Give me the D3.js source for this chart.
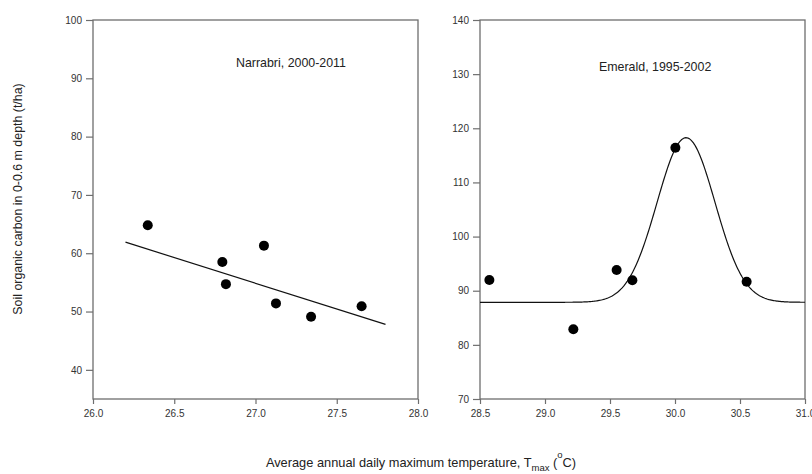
<!DOCTYPE html>
<html>
<head>
<meta charset="utf-8">
<script src="https://cdn.jsdelivr.net/npm/d3@7"></script>
<style>
  html, body { margin: 0; padding: 0; background: #fff; }
  svg { display: block; font-family: "Liberation Sans", Arial, sans-serif; }
</style>
</head>
<body>
<svg id="chart" width="812" height="474"></svg>
<script>
// ---- Data ----
const narrabriTemp   = [26.337, 26.796, 26.818, 27.052, 27.126, 27.342, 27.653];
const narrabriCarbon = [64.8, 58.5, 54.7, 61.3, 51.4, 49.1, 50.9];
const narrabriFitTemp   = [26.2, 27.8];
const narrabriFitCarbon = [61.9, 47.8];

const emeraldTemp   = [28.572, 29.218, 29.551, 29.672, 30.003, 30.551];
const emeraldCarbon = [91.98, 82.87, 93.83, 91.92, 116.4, 91.67];
// Gaussian peak fit: y = base + amp * exp(-0.5 * ((x - center)/width)^2)
const emeraldFitBase = 87.86;
const emeraldFitAmp = 30.4;
const emeraldFitCenter = 30.085;
const emeraldFitWidth = 0.223;

const leftXTicks  = [26.0, 26.5, 27.0, 27.5, 28.0];
const leftYTicks  = [40, 50, 60, 70, 80, 90, 100];
const rightXTicks = [28.5, 29.0, 29.5, 30.0, 30.5, 31.0];
const rightYTicks = [70, 80, 90, 100, 110, 120, 130, 140];

const leftTitle  = "Narrabri, 2000-2011";
const rightTitle = "Emerald, 1995-2002";
const yLabel = "Soil organic carbon in 0-0.6 m depth (t/ha)";

// ---- Drawing ----
const svg = d3.select("#chart");
const axisColor = "#6e6e6e";
const inkColor = "#111";

function panel(cfg) {
  const x = d3.scaleLinear().domain(cfg.xDomain).range([cfg.x0, cfg.x1]);
  const y = d3.scaleLinear().domain(cfg.yDomain).range([cfg.y1, cfg.y0]);
  const g = svg.append("g");

  g.append("rect")
    .attr("x", cfg.x0).attr("y", cfg.y0)
    .attr("width", cfg.x1 - cfg.x0).attr("height", cfg.y1 - cfg.y0)
    .attr("fill", "none").attr("stroke", axisColor).attr("stroke-width", 1.3);

  const xAxis = d3.axisBottom(x).tickValues(cfg.xTicks).tickFormat(d3.format(".1f"))
    .tickSizeInner(5).tickSizeOuter(0).tickPadding(6);
  const gx = g.append("g").attr("transform", `translate(0,${cfg.y1})`).call(xAxis);
  const yAxis = d3.axisLeft(y).tickValues(cfg.yTicks).tickFormat(d3.format("d"))
    .tickSizeInner(7).tickSizeOuter(0).tickPadding(4);
  const gy = g.append("g").attr("transform", `translate(${cfg.x0},0)`).call(yAxis);
  [gx, gy].forEach(a => {
    a.select(".domain").remove();
    a.selectAll(".tick line").attr("stroke", axisColor).attr("stroke-width", 1.2);
    a.selectAll(".tick text").attr("fill", "#333")
      .style("font-size", "10px").style("font-family", "'Liberation Sans', Arial, sans-serif");
  });

  g.append("text")
    .attr("x", cfg.titleX).attr("y", cfg.titleY)
    .attr("fill", "#222").style("font-size", "12.4px")
    .text(cfg.title);

  return { g, x, y };
}

// Left panel
const L = panel({
  x0: 93, x1: 418, y0: 20, y1: 399,
  xDomain: [26, 28], yDomain: [35, 100],
  xTicks: leftXTicks, yTicks: leftYTicks,
  title: leftTitle, titleX: 236, titleY: 67
});
L.g.append("path")
  .datum(d3.zip(narrabriFitTemp, narrabriFitCarbon))
  .attr("d", d3.line().x(d => L.x(d[0])).y(d => L.y(d[1])))
  .attr("fill", "none").attr("stroke", inkColor).attr("stroke-width", 1.2);
L.g.selectAll("circle.pt")
  .data(d3.zip(narrabriTemp, narrabriCarbon))
  .join("circle").attr("class", "pt")
  .attr("cx", d => L.x(d[0])).attr("cy", d => L.y(d[1]))
  .attr("r", 5).attr("fill", "#000");

// Right panel
const R = panel({
  x0: 480, x1: 805, y0: 20, y1: 399,
  xDomain: [28.5, 31], yDomain: [70, 140],
  xTicks: rightXTicks, yTicks: rightYTicks,
  title: rightTitle, titleX: 599, titleY: 71
});
const fitXs = d3.range(0, 301).map(i => 28.5 + i * (2.5 / 300));
const fitPts = fitXs.map(t => [t,
  emeraldFitBase + emeraldFitAmp * Math.exp(-0.5 * Math.pow((t - emeraldFitCenter) / emeraldFitWidth, 2))]);
R.g.append("path")
  .datum(fitPts)
  .attr("d", d3.line().x(d => R.x(d[0])).y(d => R.y(d[1])))
  .attr("fill", "none").attr("stroke", inkColor).attr("stroke-width", 1.2);
R.g.selectAll("circle.pt")
  .data(d3.zip(emeraldTemp, emeraldCarbon))
  .join("circle").attr("class", "pt")
  .attr("cx", d => R.x(d[0])).attr("cy", d => R.y(d[1]))
  .attr("r", 5).attr("fill", "#000");

// Y axis label
svg.append("text")
  .attr("transform", "translate(22,199) rotate(-90)")
  .attr("text-anchor", "middle")
  .attr("fill", "#222").style("font-size", "12.4px")
  .text(yLabel);

// X axis label with subscript / superscript
const xl = svg.append("text")
  .attr("x", 421).attr("y", 467)
  .attr("text-anchor", "middle")
  .attr("fill", "#222").style("font-size", "12.8px");
xl.append("tspan").text("Average annual daily maximum temperature, T");
xl.append("tspan").attr("dy", 4).style("font-size", "9.5px").text("max");
xl.append("tspan").attr("dy", -4).text(" (");
xl.append("tspan").attr("dy", -9).style("font-size", "9.5px").text("o");
xl.append("tspan").attr("dy", 9).text("C)");
</script>
</body>
</html>
